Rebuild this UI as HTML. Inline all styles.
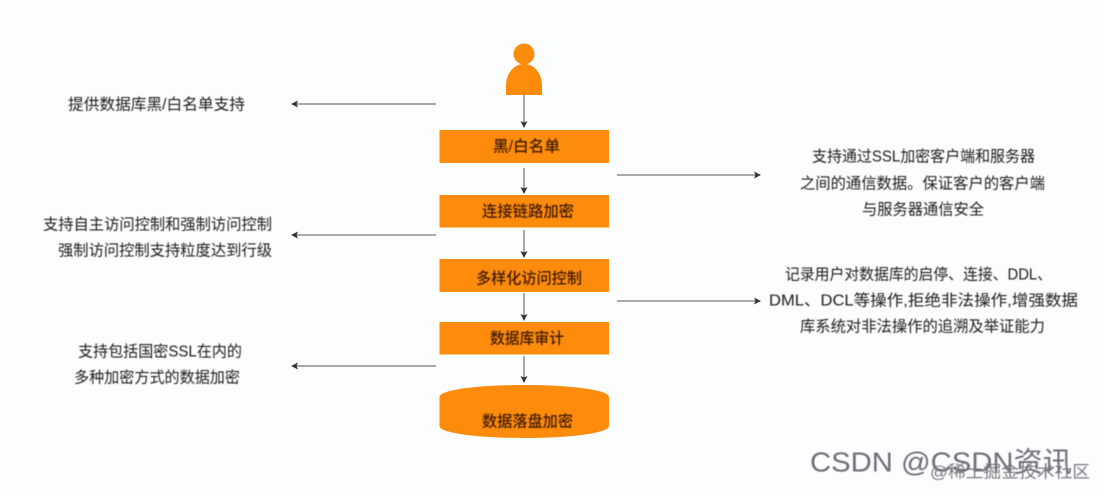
<!DOCTYPE html>
<html lang="zh"><head><meta charset="utf-8"><title>数据库安全</title>
<style>
html,body{margin:0;padding:0;background:#fbfdfe}
svg{display:block;position:absolute;left:0;top:0}
text{font-family:"Liberation Sans","Noto Sans CJK SC",sans-serif;dominant-baseline:central}
.d text{font-size:15.5px;fill:#1f1f1f}
.b text{font-size:15.5px;fill:#3f1d06;font-weight:500}
</style></head>
<body>
<svg width="1106" height="496" viewBox="0 0 1106 496" xmlns="http://www.w3.org/2000/svg">
<defs>
<filter id="s" x="-5%" y="-30%" width="110%" height="160%"><feGaussianBlur stdDeviation="0.45"/></filter>
<marker id="a" markerWidth="8" markerHeight="8" refX="6" refY="3.5" orient="auto" markerUnits="userSpaceOnUse"><path d="M0 0L7 3.5L0 7L1.5 3.5Z" fill="#333"/></marker>
</defs>
<rect width="1106" height="496" fill="#fbfdfe"/>
<g fill="#fd8b0c">
<circle cx="524" cy="54" r="10.5"/>
<path d="M506 95V86C506 73 514 64 524 64C534 64 542 73 542 86V95Z"/>
<rect x="439.5" y="130" width="169.5" height="33"/>
<rect x="439.5" y="195" width="169.5" height="32.5"/>
<rect x="439.5" y="259" width="169.5" height="33"/>
<rect x="439.5" y="322" width="169.5" height="32.5"/>
<path d="M439.5 397C439.5 390 477 385 524 385C571 385 609 390 609 397V426C609 433 571 438 524 438C477 438 439.5 433 439.5 426Z"/>
</g>
<g stroke="#555" stroke-width="1" fill="none">
<path d="M524 95V127" marker-end="url(#a)"/>
<path d="M524 168V193" marker-end="url(#a)"/>
<path d="M524 230V257" marker-end="url(#a)"/>
<path d="M524 293V320" marker-end="url(#a)"/>
<path d="M524 356V382" marker-end="url(#a)"/>
<path d="M436 104H292" marker-end="url(#a)"/>
<path d="M436 235H292" marker-end="url(#a)"/>
<path d="M436 366H292" marker-end="url(#a)"/>
<path d="M617 175H760" marker-end="url(#a)"/>
<path d="M617 301H760" marker-end="url(#a)"/>
</g>
<g filter="url(#s)">
<g class="b">
<text x="493" y="147" textLength="67" lengthAdjust="spacingAndGlyphs">黑/白名单</text>
<text x="482" y="212" textLength="92" lengthAdjust="spacingAndGlyphs">连接链路加密</text>
<text x="476" y="279" textLength="106" lengthAdjust="spacingAndGlyphs">多样化访问控制</text>
<text x="490" y="339" textLength="74" lengthAdjust="spacingAndGlyphs">数据库审计</text>
<text x="482" y="422" textLength="91" lengthAdjust="spacingAndGlyphs">数据落盘加密</text>
</g>
<g class="d">
<text x="68" y="105" textLength="177" lengthAdjust="spacingAndGlyphs">提供数据库黑/白名单支持</text>
<text x="43" y="225" textLength="229" lengthAdjust="spacingAndGlyphs">支持自主访问控制和强制访问控制</text>
<text x="58" y="251" textLength="214" lengthAdjust="spacingAndGlyphs">强制访问控制支持粒度达到行级</text>
<text x="78" y="352" textLength="164" lengthAdjust="spacingAndGlyphs">支持包括国密SSL在内的</text>
<text x="74" y="378" textLength="166" lengthAdjust="spacingAndGlyphs">多种加密方式的数据加密</text>
<text x="812" y="157" textLength="223" lengthAdjust="spacingAndGlyphs">支持通过SSL加密客户端和服务器</text>
<text x="800" y="184" textLength="245" lengthAdjust="spacingAndGlyphs">之间的通信数据。保证客户的客户端</text>
<text x="862" y="210" textLength="122" lengthAdjust="spacingAndGlyphs">与服务器通信安全</text>
<text x="785" y="275" textLength="267" lengthAdjust="spacingAndGlyphs">记录用户对数据库的启停、连接、DDL、</text>
<text x="769" y="301" textLength="309" lengthAdjust="spacingAndGlyphs">DML、DCL等操作,拒绝非法操作,增强数据</text>
<text x="800" y="327" textLength="245" lengthAdjust="spacingAndGlyphs">库系统对非法操作的追溯及举证能力</text>
</g>
<text x="810" y="462" font-size="28" fill="#6e6f75" textLength="262" lengthAdjust="spacingAndGlyphs">CSDN @CSDN资讯</text>
<text x="930" y="472" font-size="17" fill="#77787c" textLength="160" lengthAdjust="spacingAndGlyphs">@稀土掘金技术社区</text>
</g>
</svg>
</body></html>
